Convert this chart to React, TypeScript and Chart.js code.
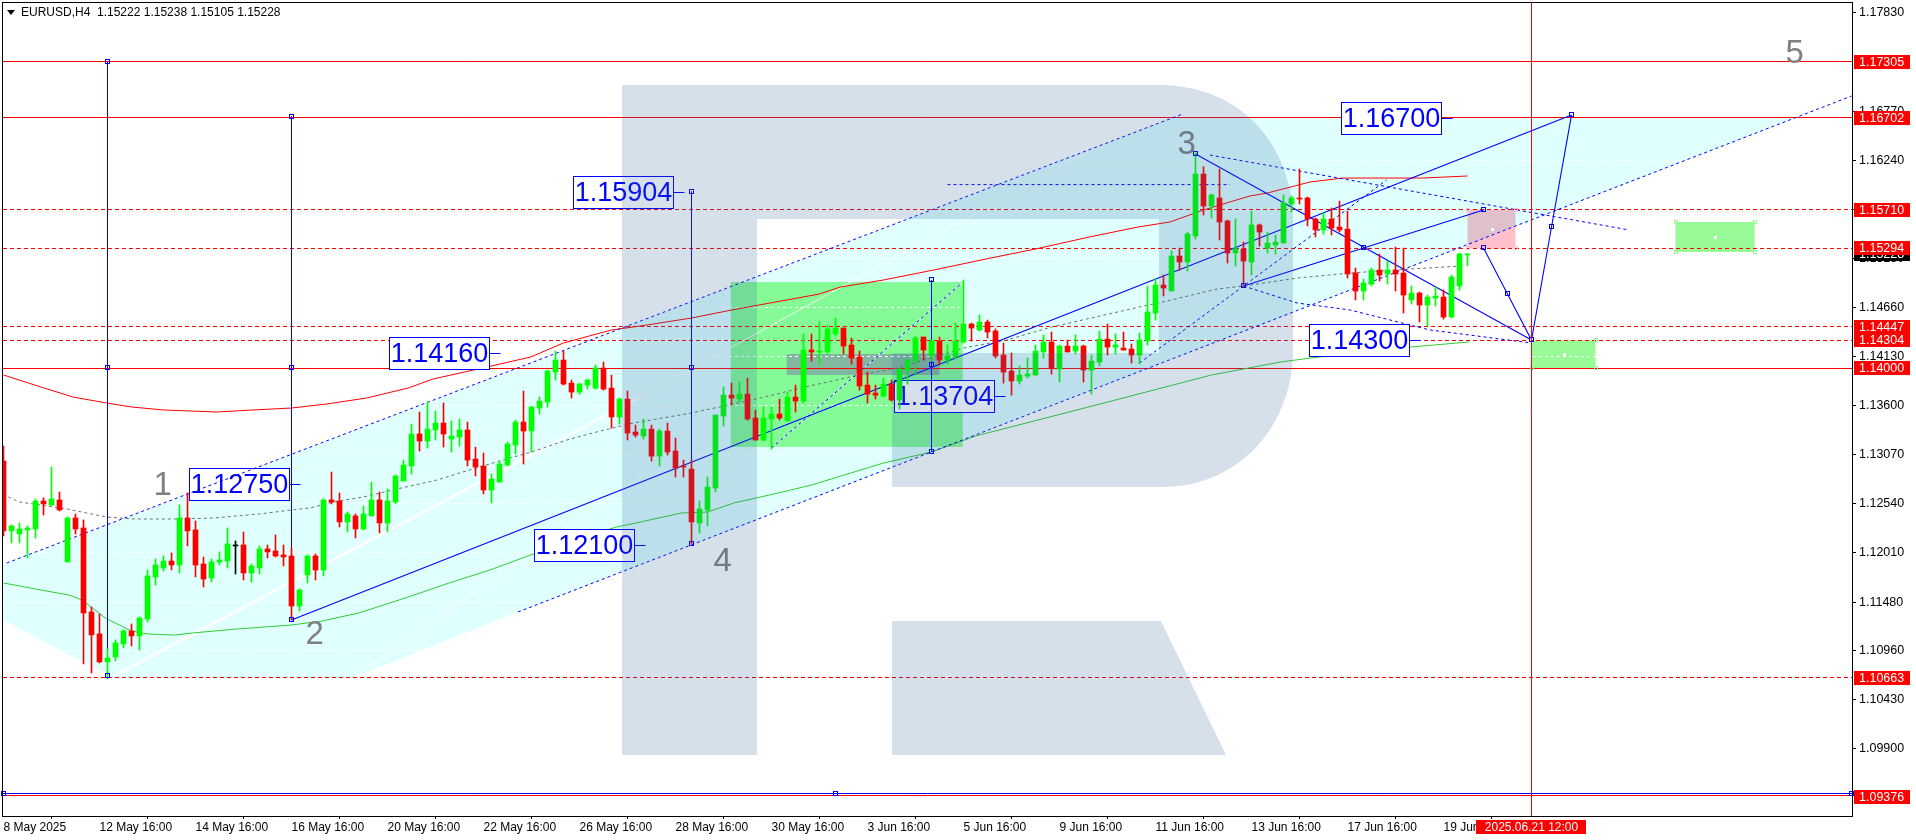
import React, { useEffect, useRef } from "react";
import { Chart, registerables } from "chart.js";
Chart.register(...registerables);

// candle prices in points (1e-5)
const highs = [113162,112312,112333,112301,112592,112603,112936,112667,112398,112430,112365,111428,111352,110975,111072,111180,111244,111320,111826,111945,111977,112010,112527,112656,112355,111966,111945,112021,112279,112139,112236,111891,112085,112096,112204,112096,112064,111622,111988,111999,112592,112882,112656,112452,112430,112516,112774,112667,112699,112850,113011,113399,113529,113636,113539,113626,113432,113453,113421,113151,113087,112860,113000,113205,113442,113755,113593,113690,113981,114186,114186,113873,113841,113884,114035,114067,113927,113679,113755,113388,113453,113388,113345,113410,113248,113011,113011,112570,112828,113496,113798,113841,113852,113895,113550,113582,113582,113668,113744,113819,114370,114370,114499,114467,114542,114434,114326,114186,113959,113819,113895,113873,114003,114111,114348,114337,114305,114337,114251,114488,114952,114488,114574,114520,114424,114272,114165,114025,114111,114251,114359,114391,114251,114305,114359,114251,114143,114402,114477,114370,114391,114262,114380,114887,114962,115005,115264,115296,115469,116321,116174,115879,116148,115598,115609,115361,115695,115555,115469,115437,115868,115857,116148,115847,115620,115674,115728,115803,115695,115081,114962,115081,115232,115156,115307,115296,114887,114822,114790,114876,114844,115005,115243,115238];
const lows = [112193,112118,112118,111956,112171,112419,112516,112462,111913,112214,110813,110716,110824,110651,110846,110986,111007,110964,111266,111665,111815,111826,111794,112085,111751,111643,111697,111880,111848,111783,111718,111697,111783,111956,111966,111869,111287,111384,111686,111718,111762,112538,112290,112236,112171,112258,112409,112225,112236,112538,112785,112860,113108,113141,113227,113151,113098,113162,112947,112839,112645,112549,112774,112947,113076,112968,113098,113507,113582,113873,113819,113679,113722,113776,113776,113765,113356,113399,113227,113259,113238,113000,112947,113065,112828,112828,112107,112225,112301,112667,113377,113604,113636,113442,113227,113216,113130,113442,113432,113529,113626,114078,114035,114154,114348,114154,114046,113765,113626,113668,113690,113647,113561,113830,113927,114089,114078,114035,114046,114100,114272,114294,114402,114326,114111,113841,113711,113830,113895,113927,114111,113938,113852,114176,114154,113852,113722,114025,114143,114154,114197,114057,114046,114251,114520,114779,114833,115059,115049,115394,115652,115620,115383,115135,115103,114887,115005,115318,115243,115232,115350,115685,115771,115534,115415,115447,115437,115469,114973,114736,114736,114887,114941,114908,114833,114596,114693,114499,114456,114671,114531,114542,114844,115105];
const opens = [113000,112247,112214,112258,112268,112570,112527,112581,111913,112387,112279,111374,111137,110835,110889,111029,111169,111115,111298,111751,111848,111923,111880,112387,112258,111891,111740,111913,111923,112085,112096,111794,111848,112053,112031,111988,111977,111438,111772,111977,111826,112581,112570,112344,112409,112268,112409,112581,112333,112559,112785,112947,113292,113216,113335,113410,113238,113259,113335,113022,112947,112688,112774,112957,113173,113421,113324,113572,113636,113959,114089,113841,113744,113819,113787,114003,113787,113475,113668,113313,113270,113345,113054,113324,113108,112947,112914,112333,112473,112710,113485,113711,113668,113722,113464,113227,113453,113507,113432,113690,113647,114197,114176,114176,114370,114434,114251,114122,113819,113733,113701,113830,113658,113981,114078,114337,114133,114294,114089,114122,114283,114477,114413,114499,114402,114143,113970,113863,113916,113927,114176,114283,113992,114240,114186,114240,113981,114067,114315,114229,114218,114208,114143,114294,114596,114898,114833,115210,115146,115426,116094,115749,115836,115588,115243,115286,115146,115545,115296,115329,115350,115771,115836,115836,115609,115491,115609,115523,115501,115027,114833,114908,115059,115016,115059,115027,114736,114811,114682,114757,114768,114553,114887,115222];
const closes = [112247,112301,112268,112279,112570,112538,112592,112473,112387,112268,111363,111126,110835,110878,111040,111169,111115,111309,111762,111880,111923,111880,112387,112247,111880,111729,111913,111934,112107,112085,111794,111869,112053,112021,111977,111966,111438,111611,111977,111826,112581,112559,112344,112430,112268,112430,112581,112333,112570,112839,112957,113292,113216,113345,113410,113292,113270,113335,113011,112936,112688,112806,112968,113184,113421,113324,113582,113647,113970,114089,113830,113744,113830,113873,114003,113776,113475,113668,113302,113281,113345,113054,113324,113098,112925,112936,112344,112484,112720,113496,113711,113679,113722,113453,113227,113464,113507,113464,113690,113647,114197,114176,114186,114424,114434,114240,114111,113809,113722,113711,113830,113658,113992,114089,114326,114197,114294,114089,114133,114294,114477,114434,114499,114391,114133,113959,113863,113927,113938,114186,114283,114003,114240,114176,114240,113981,114078,114315,114229,114251,114197,114143,114305,114607,114898,114865,115210,115146,115447,116094,115749,115868,115577,115243,115286,115156,115545,115469,115350,115361,115782,115836,115825,115609,115491,115609,115512,115491,115016,114833,114919,115059,115005,115059,115016,114790,114811,114682,114768,114779,114553,114984,115232,115228];

// moving averages: bar, price points
const maRedBars = [0,4.7,8.7,12.9,16,20,26.6,31.2,36,40.4,45.4,50.6,53.7,59.3,65.9,70,76,79.6,86,91,102,104.6,110,116.3,123.4,129,135.7,141.8,145.8,150,153.3,155.8,158,163.3,167.4,177.4,183];
const maRedVals = [113928,113798,113690,113626,113583,113551,113529,113551,113572,113615,113680,113788,113885,113992,114122,114273,114413,114456,114542,114628,114801,114876,114952,115060,115189,115286,115415,115523,115577,115706,115793,115857,115890,116008,116051,116051,116073];
const maGreenBars = [0,4.7,8.2,9.8,12.9,16,18,21.4,23.6,29.2,36,39.8,44.4,50.6,55.7,60.8,66.2,76.6,79.6,84.7,88,91.3,97.4,101,110,116,121.5,133.7,143.3,151,159.6,164.4,176,183.2];
const maGreenVals = [111686,111610,111556,111503,111298,111169,111136,111125,111147,111190,111233,111276,111362,111535,111686,111826,111998,112289,112343,112440,112451,112548,112667,112742,112979,113098,113270,113540,113755,113928,114068,114122,114230,114284];
const maGreyBars = [0.6,2,4.6,8,10.4,12.9,16.2,21.2,26.2,32,36,38.3,41.2,45,49.2,54.2,57.4,63.3,66,70.4,74.6,78.7,86,94.6,100.2,105.8,111.7,120,125.4,131,135.4,142,145.4,151.7,155,161.7,168.3,175.8,182.4];
const maGreyVals = [112613,112559,112527,112483,112440,112397,112376,112376,112386,112430,112473,112494,112559,112613,112699,112796,112882,113033,113098,113227,113324,113410,113518,113680,113798,113906,114003,114219,114305,114445,114531,114661,114725,114855,114887,114973,115027,115070,115103];

// drawn objects: [bar, price points] pairs
const channelFill = [[-0.06,111880],[146.2,116698],[224,116698],[64.3,111373],[43.9,110673],[13.6,110673],[-0.06,111287]];
const whiteThick = [[13.6,110673],[79.6,113690]];
const whiteThin = [[79.6,113690],[143.3,116698]];
const whiteThin2 = [[43.9,110673],[79.6,112839]];
const whiteDash = [[96,113141],[119.8,114919]];
const solidLines = [
  [[36,111287],[196,116730]],
  [[149,116310],[191,114305]],
  [[155,114887],[170,115297],[185,115706]],
  [[185,115297],[188,114801],[191,114305],[193.5,115523],[196,116730]],
];
const verticals = [[13,117305,110683],[36,116714,111292],[86,115904,112106],[116,114952,113098]];
const dashedLines = [
  [[0.4,111901],[147.4,116741]],
  [[64.3,111373],[231,116935]],
  [[150.8,116299],[203.2,115491]],
  [[155,114887],[161.7,114704],[168.3,114629],[178.3,114413],[191,114273]],
  [[118,115980],[153.3,115980]],
  [[142,114057],[172.9,116030]],
  [[96,113141],[119.8,114919]],
];
const handles = [[13,117305],[13,114000],[13,110683],[36,116714],[36,114000],[36,111292],[86,115904],[86,114000],[86,112106],[116,114952],[116,114034],[116,113098],[149,116310],[155,114887],[170,115297],[185,115706],[185,115297],[188,114801],[191,114305],[193.5,115523],[196,116730],[0,109412],[104,109412],[231,109412]];
const zones = [
  { x0: 90.9, x1: 119.9, p0: 114930, p1: 113152, color: "#98FB98" },
  { x0: 191, x1: 199, p0: 114304, p1: 114000, color: "#98FB98" },
  { x0: 209, x1: 218.9, p0: 115577, p1: 115254, color: "#98FB98" },
  { x0: 183, x1: 189, p0: 115710, p1: 115294, color: "#FFC0CB" },
];
const greyZone = { x0: 97.9, x1: 117, p0: 114154, p1: 113928 };
const crossBar = 191;

const solidLevels = [117305, 116702, 114000, 109390];
const dashedLevels = [115710, 115294, 114447, 114304, 110663];
const blueLevel = 109412;
const priceTags = [
  ["1.15228", 115228, "#000"],
  ["1.17305", 117305, "#f00"], ["1.16702", 116702, "#f00"], ["1.15710", 115710, "#f00"], ["1.15294", 115294, "#f00"],
  ["1.14447", 114447, "#f00"], ["1.14304", 114304, "#f00"], ["1.14000", 114000, "#f00"], ["1.10663", 110663, "#f00"], ["1.09376", 109376, "#f00"],
];
const boxes = [
  ["1.14160", 48.2, 114160], ["1.15904", 71.2, 115904], ["1.12750", 23.2, 112750], ["1.12100", 66.25, 112100],
  ["1.13704", 111.25, 113704], ["1.16700", 167.2, 116700], ["1.14300", 163.2, 114300],
];
const waves = [["1", 19.9, 112764], ["2", 38.9, 111158], ["3", 147.9, 116439], ["4", 89.9, 111945], ["5", 223.9, 117420]];

const yTicks = [1.1783, 1.1677, 1.1624, 1.1571, 1.1518, 1.1466, 1.1413, 1.136, 1.1307, 1.1254, 1.1201, 1.1148, 1.1096, 1.1043, 1.099];
const timeLabels = ["8 May 2025","12 May 16:00","14 May 16:00","16 May 16:00","20 May 16:00","22 May 16:00","26 May 16:00","28 May 16:00","30 May 16:00","3 Jun 16:00","5 Jun 16:00","9 Jun 16:00","11 Jun 16:00","13 Jun 16:00","17 Jun 16:00","19 Jun 16:00"];
const titleText = "EURUSD,H4  1.15222 1.15238 1.15105 1.15228";
const crossLabel = "2025.06.21 12:00";

const FONT = '"Liberation Sans", Arial, sans-serif';
const pts = (v: number) => v / 1e5;
const line = (pairs: number[][]) => pairs.map(([x, y]) => ({ x, y: pts(y) }));
const zip = (a: number[], b: number[]) => a.map((x, i) => ({ x, y: pts(b[i]) }));

const overlay = {
  id: "overlay",
  beforeDatasetsDraw(chart: any) {
    const { ctx, chartArea: a, scales: { x, y } } = chart;
    const X = (v: number) => x.getPixelForValue(v);
    const Y = (v: number) => y.getPixelForValue(pts(v));
    const row = (v: number) => Math.floor(Y(v)) + 0.5;
    ctx.save();
    ctx.fillStyle = "#E0FFFF";
    ctx.beginPath();
    channelFill.forEach(([b, p], i) => (i ? ctx.lineTo(X(b), Y(p)) : ctx.moveTo(X(b), Y(p))));
    ctx.closePath();
    ctx.fill();
    ctx.globalCompositeOperation = "multiply";
    zones.forEach((z) => {
      ctx.fillStyle = z.color;
      ctx.fillRect(X(z.x0), Y(z.p0), X(z.x1) - X(z.x0), Y(z.p1) - Y(z.p0));
    });
    ctx.globalCompositeOperation = "source-over";
    ctx.fillStyle = "rgba(128,128,170,0.55)";
    ctx.fillRect(X(greyZone.x0), Y(greyZone.p0), X(greyZone.x1) - X(greyZone.x0), Y(greyZone.p1) - Y(greyZone.p0));
    const stroke = (pairs: number[][], w: number, color: string, dash: number[] = []) => {
      ctx.strokeStyle = color; ctx.lineWidth = w; ctx.setLineDash(dash);
      ctx.beginPath();
      pairs.forEach(([b, p], i) => (i ? ctx.lineTo(X(b), Y(p)) : ctx.moveTo(X(b), Y(p))));
      ctx.stroke();
    };
    stroke(whiteThick, 2.5, "#fff");
    stroke(whiteThin, 1, "rgba(255,255,255,0.9)");
    stroke(whiteThin2, 1, "rgba(255,255,255,0.8)");
    stroke(whiteDash, 1, "#fff");
    ctx.lineWidth = 1; ctx.strokeStyle = "#fff"; ctx.setLineDash([3, 3]);
    yTicks.forEach((t) => {
      const py = Math.floor(y.getPixelForValue(t)) + 0.5;
      ctx.beginPath(); ctx.moveTo(a.left, py); ctx.lineTo(a.right, py); ctx.stroke();
    });
    const hline = (v: number, color: string, dash: number[]) => {
      ctx.strokeStyle = color; ctx.setLineDash(dash);
      ctx.beginPath(); ctx.moveTo(a.left, row(v)); ctx.lineTo(a.right, row(v)); ctx.stroke();
    };
    dashedLevels.forEach((v) => hline(v, "#f00", [4, 3]));
    solidLevels.forEach((v) => hline(v, "#f00", []));
    hline(blueLevel, "#00f", []);
    ctx.restore();
  },
  afterDatasetDraw(chart: any, args: any) {
    if (chart.data.datasets[args.index].label !== "boxLayer") return;
    const { ctx, scales: { x, y } } = chart;
    ctx.save();
    boxes.forEach(([t, b, p]: any) => {
      const l = Math.round(x.getPixelForValue(b)) + 0.5;
      const cy = y.getPixelForValue(pts(p));
      const top = Math.round(cy - 16) + 0.5;
      ctx.fillStyle = "#fff"; ctx.strokeStyle = "#00f"; ctx.lineWidth = 1; ctx.setLineDash([]);
      ctx.fillRect(l, top, 100, 32);
      ctx.strokeRect(l, top, 100, 32);
      ctx.beginPath(); ctx.moveTo(l + 100, top + 16); ctx.lineTo(l + 111, top + 16); ctx.stroke();
      ctx.fillStyle = "#00f"; ctx.font = `27px ${FONT}`; ctx.textAlign = "center"; ctx.textBaseline = "middle";
      ctx.fillText(t, l + 50, top + 17);
    });
    ctx.restore();
  },
  afterDatasetsDraw(chart: any) {
    const { ctx, chartArea: a, scales: { x, y } } = chart;
    const X = (v: number) => x.getPixelForValue(v);
    const Y = (v: number) => y.getPixelForValue(pts(v));
    ctx.save();
    ctx.setLineDash([]); ctx.lineWidth = 1;
    // zone anchors
    zones.forEach((z, i) => {
      if (i === 0) return;
      const c = z.color === "#FFC0CB" ? "#FFC0CB" : "#98FB98";
      ctx.strokeStyle = c;
      [[z.x0, z.p0], [z.x1, z.p0], [z.x0, z.p1], [z.x1, z.p1]].forEach(([b, p]) => {
        ctx.strokeRect(Math.round(X(b)) - 1.5, Math.round(Y(p)) - 1.5, 3, 3);
      });
      ctx.fillStyle = "#fff";
      ctx.fillRect(Math.round(X((z.x0 + z.x1) / 2)) - 1, Math.round(Y((z.p0 + z.p1) / 2)) - 1, 3, 3);
    });
    // handles
    ctx.strokeStyle = "#00f";
    handles.forEach(([b, p]) => {
      ctx.strokeRect(Math.round(X(b) - 0.5) - 1.5, Math.round(Y(p)) - 2.5, 4, 4);
    });
    // wave numbers
    ctx.fillStyle = "#808080"; ctx.font = `33px ${FONT}`; ctx.textAlign = "center"; ctx.textBaseline = "middle";
    waves.forEach(([t, b, p]: any) => ctx.fillText(t, X(b), Y(p) + 3));
    // crosshair
    ctx.strokeStyle = "#f00";
    ctx.beginPath(); ctx.moveTo(X(crossBar), a.top); ctx.lineTo(X(crossBar), a.bottom); ctx.stroke();
    // watermark
    ctx.fillStyle = "rgba(45,100,155,0.2)";
    ctx.beginPath();
    ctx.moveTo(622, 85); ctx.lineTo(1159, 85);
    ctx.bezierCurveTo(1245, 85, 1293, 150, 1293, 220);
    ctx.lineTo(1293, 350);
    ctx.bezierCurveTo(1293, 425, 1240, 487, 1162, 487);
    ctx.lineTo(892, 487); ctx.lineTo(892, 353); ctx.lineTo(1159, 353); ctx.lineTo(1159, 219);
    ctx.lineTo(757, 219); ctx.lineTo(757, 755); ctx.lineTo(622, 755); ctx.closePath();
    ctx.moveTo(892, 621); ctx.lineTo(1161, 621); ctx.lineTo(1226, 755); ctx.lineTo(892, 755); ctx.closePath();
    ctx.fill();
    // frame
    ctx.strokeStyle = "#000";
    ctx.strokeRect(a.left - 0.5, a.top - 0.5, a.right - a.left + 1, a.bottom - a.top + 1);
    // title
    ctx.fillStyle = "#000";
    ctx.beginPath(); ctx.moveTo(7, 10); ctx.lineTo(15, 10); ctx.lineTo(11, 15); ctx.closePath(); ctx.fill();
    ctx.font = `12px ${FONT}`; ctx.textAlign = "left"; ctx.textBaseline = "middle";
    ctx.fillText(titleText, 21, 13);
    ctx.restore();
  },
  afterDraw(chart: any) {
    const { ctx, scales: { x, y } } = chart;
    ctx.save();
    ctx.font = `12.5px ${FONT}`; ctx.textBaseline = "middle"; ctx.textAlign = "left";
    priceTags.forEach(([t, p, c]: any) => {
      const cy = Math.round(y.getPixelForValue(pts(p)));
      ctx.fillStyle = c; ctx.fillRect(1854, cy - 7, 56, 14);
      ctx.fillStyle = "#fff"; ctx.fillText(t, 1859, cy + 1);
    });
    const cx = x.getPixelForValue(crossBar);
    ctx.fillStyle = "#f00"; ctx.fillRect(cx - 55.5, 820, 110, 14);
    ctx.fillStyle = "#fff"; ctx.textAlign = "center"; ctx.font = `12px ${FONT}`;
    ctx.fillText(crossLabel, cx, 827.5);
    ctx.restore();
  },
};

export default function App() {
  const ref = useRef<HTMLCanvasElement>(null);
  useEffect(() => {
    const barColor = (i: number) => (closes[i] > opens[i] ? "#00FF00" : closes[i] < opens[i] ? "#FF0000" : "#000000");
    const colors = opens.map((_, i) => barColor(i));
    const lineDs = (label: string, data: any[], color: string, width: number, dash: number[] = []) => ({
      type: "line", label, data, borderColor: color, borderWidth: width, borderDash: dash,
      pointRadius: 0, fill: false, tension: 0,
    });
    const sequence: any[] = [
      lineDs("MA red", zip(maRedBars, maRedVals), "#FF0000", 1),
      lineDs("MA green", zip(maGreenBars, maGreenVals), "#32CD32", 1),
      lineDs("boxLayer", zip(maGreyBars, maGreyVals), "#707070", 1, [3, 3]),
      ...verticals.map(([b, hi, lo], i) => lineDs(`v${i}`, [{ x: b, y: pts(hi) }, { x: b, y: pts(lo) }], "#0000FF", 1)),
      ...solidLines.map((l, i) => lineDs(`s${i}`, line(l), "#0000FF", 1.1)),
      ...dashedLines.map((l, i) => lineDs(`d${i}`, line(l), "#0000FF", 1, [3, 3])),
      {
        type: "bar", label: "wick", grouped: false, barThickness: 1, backgroundColor: colors, borderWidth: 0,
        data: highs.map((h, i) => ({ x: i, y: [pts(lows[i]), pts(h)] })),
      },
      {
        type: "bar", label: "body", grouped: false, barThickness: 5, minBarLength: 1, backgroundColor: colors, borderWidth: 0,
        data: opens.map((o, i) => ({ x: i, y: [pts(o), pts(closes[i])] })),
      },
    ];
    const datasets = sequence.map((d, i) => ({ ...d, order: sequence.length - i }));
    const chart = new Chart(ref.current as HTMLCanvasElement, {
      type: "line",
      data: { datasets },
      plugins: [overlay],
      options: {
        animation: false, responsive: false, devicePixelRatio: 1,
        layout: { padding: { left: 3, top: 3, right: 0, bottom: 0 } },
        plugins: { legend: { display: false }, tooltip: { enabled: false }, title: { display: false } },
        scales: {
          x: {
            type: "linear", min: -0.0625, max: 231.0625, offset: false,
            afterBuildTicks: (s: any) => { s.ticks = timeLabels.map((_, i) => ({ value: i * 12 })); },
            afterFit: (s: any) => { s.height = 24; s.paddingLeft = 0; s.paddingRight = 0; },
            grid: { drawOnChartArea: false, drawTicks: true, tickLength: 3, color: "#000" },
            border: { display: false },
            ticks: {
              autoSkip: false, maxRotation: 0, minRotation: 0, align: "start", padding: 1, color: "#000",
              font: { family: FONT, size: 12 },
              callback: (v: number) => timeLabels[Math.round(v / 12)] ?? "",
            },
          },
          y: {
            type: "linear", position: "right", min: 1.091743, max: 1.179377,
            afterBuildTicks: (s: any) => { s.ticks = yTicks.map((value) => ({ value })); },
            afterFit: (s: any) => { s.width = 64; s.paddingTop = 0; s.paddingBottom = 0; },
            grid: { drawOnChartArea: false, drawTicks: true, tickLength: 4, color: "#000" },
            border: { display: false },
            ticks: {
              padding: 3, color: "#000", autoSkip: false,
              font: { family: FONT, size: 12.5 },
              callback: (v: number) => v.toFixed(5),
            },
          },
        },
      },
    } as any);
    return () => chart.destroy();
  }, []);
  return (
    <div style={{ position: "fixed", left: 0, top: 0, width: 1916, height: 840, background: "#fff" }}>
      <canvas ref={ref} width={1916} height={840} style={{ display: "block" }} />
    </div>
  );
}
